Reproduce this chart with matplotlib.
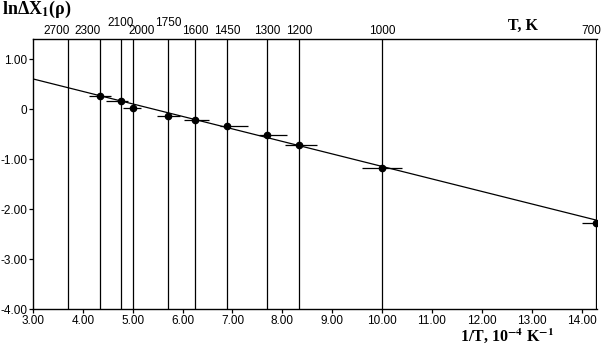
import numpy as np
import matplotlib
matplotlib.use("Agg")
import matplotlib.pyplot as plt
import matplotlib.transforms as mtransforms

# ---- data ----
T_lines = [2700, 2300, 2100, 2000, 1750, 1600, 1450, 1300, 1200, 1000, 700]
T_raised = [2100, 1750]
T_points = [2300, 2100, 2000, 1750, 1600, 1450, 1300, 1200, 1000, 700]
y_points = [0.26, 0.166, 0.02, -0.128, -0.214, -0.334, -0.52, -0.714, -1.18, -2.28]
xerr_low = [0.22, 0.29, 0.20, 0.23, 0.22, 0.15, 0.17, 0.27, 0.40, 0.28]
xerr_high = [0.21, 0.15, 0.17, 0.24, 0.28, 0.41, 0.41, 0.37, 0.40, 0.28]
fit_x = [3.0, 14.3]
fit_y = [0.61, -2.22]
x_ticks = [3, 4, 5, 6, 7, 8, 9, 10, 11, 12, 13, 14]
x_ticklabels = ["3.00", "4.00", "5.00", "6.00", "7.00", "8.00", "9.00",
                "10.00", "11.00", "12.00", "13.00", "14.00"]
y_ticks = [1, 0, -1, -2, -3, -4]
y_ticklabels = ["1.00", "0", "-1.00", "-2.00", "-3.00", "-4.00"]

# style: horizontal placement of the top temperature labels
top_ha = {2700: 'right', 2300: 'right', 2000: 'left', 700: 'right'}
top_dx = {2700: 1, 2300: 0, 2000: -3, 700: 4}

plt.rcParams['mathtext.fontset'] = 'stix'

tick_font = ['Liberation Sans', 'DejaVu Sans']
tick_size = 8.5

W, H = 605, 345
fig = plt.figure(figsize=(W / 100, H / 100), dpi=100)
ax = fig.add_axes([33 / W, (H - 309) / H, (597 - 33) / W, (309 - 39) / H])
ax.set_xlim(3.0, 14.31)
ax.set_ylim(-4.0, 1.41)

for s in ['left', 'bottom', 'top']:
    ax.spines[s].set_linewidth(1.0)
ax.spines['right'].set_visible(False)

# vertical temperature lines
for T in T_lines:
    ax.axvline(1e4 / T, color='black', lw=0.9, zorder=1)

# fitted line
ax.plot(fit_x, fit_y, color='black', lw=0.9, zorder=2)

# data points with horizontal error bars
xp = [1e4 / T for T in T_points]
ax.errorbar(xp, y_points, xerr=[xerr_low, xerr_high], fmt='o', color='black',
            ms=4.5, elinewidth=0.9, capsize=0, zorder=3, clip_on=True)

ax.set_xticks(x_ticks)
ax.set_xticklabels(x_ticklabels)
ax.set_yticks(y_ticks)
ax.set_yticklabels(y_ticklabels)
ax.tick_params(axis='both', direction='out', length=3, width=0.9, pad=1,
               labelsize=tick_size, top=False, right=False)
for lab in ax.get_xticklabels() + ax.get_yticklabels():
    lab.set_fontfamily(tick_font)

# top temperature labels
trans = mtransforms.blended_transform_factory(ax.transData, ax.transAxes)
for T in T_lines:
    raised = T in T_raised
    ax.annotate(str(T), xy=(1e4 / T, 1.0), xycoords=trans,
                xytext=(top_dx.get(T, 0), 7.5 if raised else 1.5),
                textcoords='offset points',
                ha=top_ha.get(T, 'center'), va='bottom', fontsize=tick_size,
                fontfamily=tick_font, annotation_clip=False)

serif = ['Liberation Serif', 'DejaVu Serif']
fig.text(2 / W, 1 - 14 / H, r'lnΔX$_\mathbf{1}$(ρ)', ha='left', va='baseline',
         fontsize=13, fontweight='bold', fontfamily=serif)
fig.text(523 / W, 1 - 30 / H, 'T, K', ha='center', va='baseline',
         fontsize=11.5, fontweight='bold', fontfamily=serif)
fig.text(507 / W, 1 - 341 / H, r'1/T, 10$^{\mathbf{-4}}$ K$^{\mathbf{-1}}$',
         ha='center', va='baseline', fontsize=11.5, fontweight='bold',
         fontfamily=serif)

fig.savefig('out.png', dpi=100)
